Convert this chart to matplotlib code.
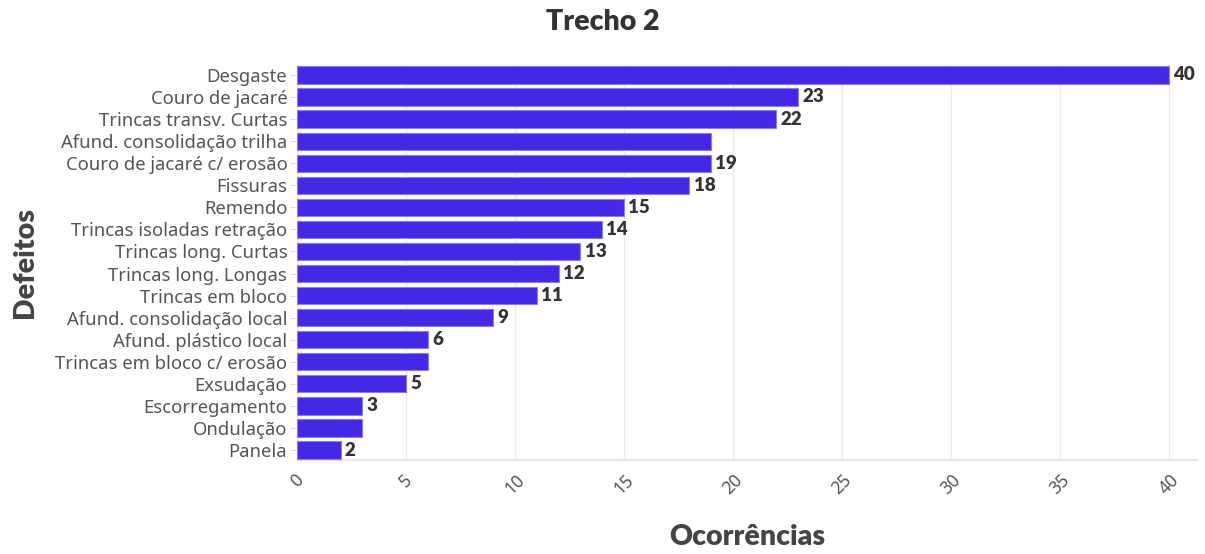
import matplotlib
matplotlib.use("Agg")
import matplotlib.pyplot as plt

categories = ["Desgaste", "Couro de jacaré", "Trincas transv. Curtas",
              "Afund. consolidação trilha", "Couro de jacaré c/ erosão", "Fissuras",
              "Remendo", "Trincas isoladas retração", "Trincas long. Curtas",
              "Trincas long. Longas", "Trincas em bloco", "Afund. consolidação local",
              "Afund. plástico local", "Trincas em bloco c/ erosão", "Exsudação",
              "Escorregamento", "Ondulação", "Panela"]
values = [40, 23, 22, 19, 19, 18, 15, 14, 13, 12, 11, 9, 6, 6, 5, 3, 3, 2]
show_label = [True, True, True, False, True, True, True, True, True, True, True,
              True, True, False, True, True, False, True]
xticks = [0, 5, 10, 15, 20, 25, 30, 35, 40]

plt.rcParams['font.family'] = ['Noto Sans', 'DejaVu Sans']
BOLD = ['Lato', 'DejaVu Sans']

fig = plt.figure(figsize=(12.05, 5.54), dpi=100)
ax = fig.add_axes([297/1205, 1-460/554, 900/1205, 395/554])

ypos = list(range(len(categories)))
ax.barh(ypos, values, height=0.78, color="#4329E6", edgecolor="#8A7BF0",
        linewidth=0.8, zorder=3)
for y, v, s in zip(ypos, values, show_label):
    if s:
        ax.text(v + 0.2, y, str(v), va="center", ha="left", fontsize=13.5,
                fontweight="heavy", family=BOLD, color="#333333", zorder=4)

ax.set_xlim(0, 41.3)
ax.set_ylim(len(categories) - 0.55, -0.45)
ax.set_yticks(ypos)
ax.set_yticklabels(categories, fontsize=13.3, color="#555555")
ax.set_xticks(xticks)
ax.set_xticklabels([str(t) for t in xticks], rotation=45, fontsize=12.5,
                   color="#555555", ha="center", va="top")
ax.tick_params(axis="y", length=5, color="#dddddd", pad=2)
ax.tick_params(axis="x", length=0, pad=8)
ax.grid(axis="x", color="#ebebeb", linewidth=1, zorder=0)
for sp in ["top", "right", "left"]:
    ax.spines[sp].set_visible(False)
ax.spines["bottom"].set_color("#e6e6e6")
ax.spines["bottom"].set_linewidth(1.5)

fig.text(0.5, 1-22/554, "Trecho 2", ha="center", va="center", fontsize=20.5,
         fontweight="heavy", family=BOLD, color="#333333")
fig.text((297+1197)/2/1205, 1-537/554, "Ocorrências", ha="center", va="center",
         fontsize=20.5, fontweight="heavy", family=BOLD, color="#444444")
fig.text(25/1205, 1-262/554, "Defeitos", ha="center", va="center", rotation=90,
         fontsize=20.5, fontweight="heavy", family=BOLD, color="#444444")

fig.savefig("out.png", dpi=100, facecolor="white")
